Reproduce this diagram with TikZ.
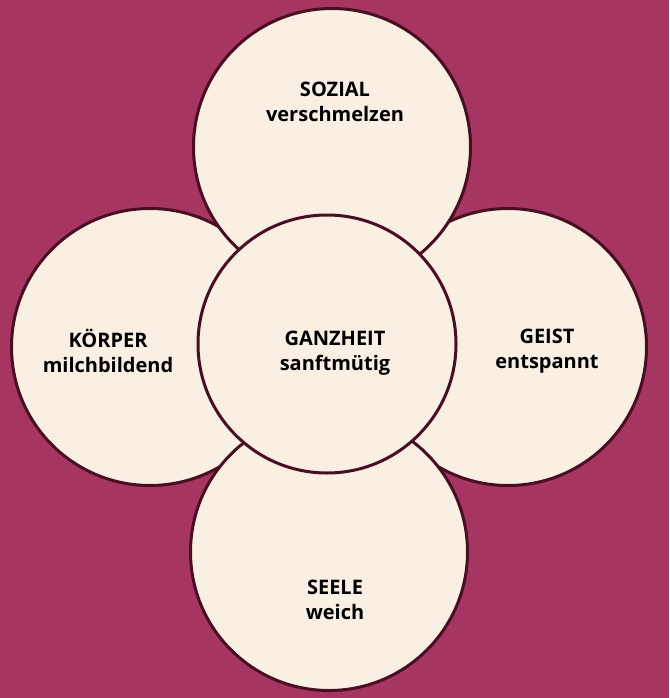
\documentclass[tikz,border=0pt]{standalone}
\usepackage{fontspec}
\setmainfont{Open Sans}
\definecolor{plum}{RGB}{166,53,97}
\definecolor{cream}{RGB}{249,239,227}
\definecolor{wine}{RGB}{74,14,35}
\begin{document}
\begin{tikzpicture}[x=1pt,y=-1pt,
  disc/.style={circle,draw=wine,fill=cream,line width=3pt,minimum size=277pt,inner sep=0pt},
  lbl/.style={align=center,font=\bfseries\fontsize{20}{25.5}\selectfont,text=black}]
\fill[plum] (0,0) rectangle (669,698);
\useasboundingbox (0,0) rectangle (669,698);
\node[disc] (koerper) at (150,347) {};
\node[disc] (geist) at (508,347) {};
\node[disc] (sozial) at (332,147) {};
\node[disc] (seele) at (329,552) {};
\node[disc,minimum size=258pt] (ganzheit) at (327,344) {};
\node[lbl] (tsozial) at (335,102) {SOZIAL\\verschmelzen};
\node[lbl] (tkoerper) at (108,351) {KÖRPER\\milchbildend};
\node[lbl] (tganzheit) at (335,353) {GANZHEIT\\sanftmütig};
\node[lbl] (tgeist) at (547,351) {GEIST\\entspannt};
\node[lbl] (tseele) at (335,600) {SEELE\\weich};
\end{tikzpicture}
\end{document}
